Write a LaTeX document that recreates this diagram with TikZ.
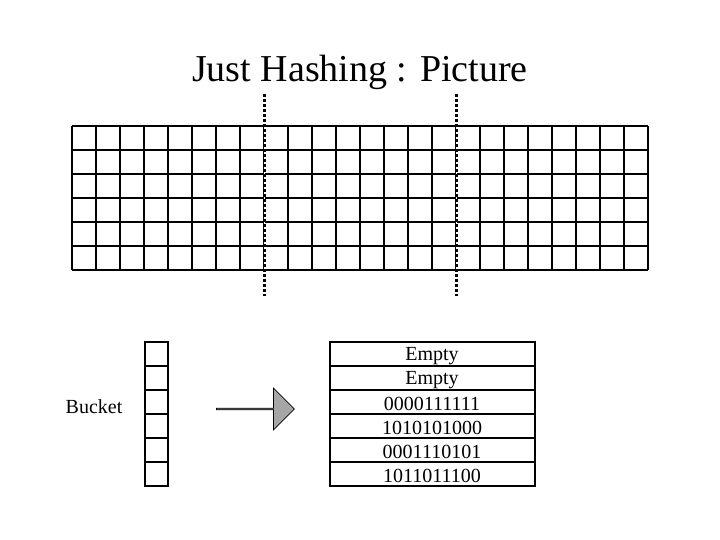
\documentclass[tikz,border=0pt]{standalone}
\usepackage{fontspec}
\setmainfont{Liberation Serif}
\usetikzlibrary{shapes.arrows}
\begin{document}
\begin{tikzpicture}[x=1pt,y=-1pt,
  gridline/.style={line width=2.6pt},
  thinbox/.style={line width=2pt},
  dotline/.style={line width=3pt,dash pattern=on 3pt off 2pt},
  lbl/.style={font=\fontsize{20}{20}\selectfont,inner sep=0pt}]
\useasboundingbox (0,0) rectangle (720,540);
\node[font=\fontsize{38}{38}\selectfont] (title) at (360,72) {Just Hashing : Picture};
% grid
\foreach \i in {0,...,24} \draw[gridline] (72+24*\i,126) -- (72+24*\i,270);
\foreach \j in {0,...,6} \draw[gridline] (72,126+24*\j) -- (648,126+24*\j);
\coordinate (d1t) at (264,94); \coordinate (d1b) at (264,296);
\coordinate (d2t) at (456,94); \coordinate (d2b) at (456,296);
\draw[line width=1pt,white] (d1t) -- (d1b);
\draw[line width=1pt,white] (d2t) -- (d2b);
\draw[dotline] (d1t) -- (d1b);
\draw[dotline] (d2t) -- (d2b);
% bucket
\node[lbl] (bucket) at (94,407) {Bucket};
\foreach \j in {0,...,5} \draw[thinbox] (145,342+24*\j) rectangle (168,366+24*\j);
% arrow
\node[single arrow, draw=black, fill=gray!70, minimum height=78pt, minimum width=42pt, single arrow head extend=10pt, inner sep=0pt, line width=0.8pt] (arr) at (255,409) {};
% table
\draw[thinbox] (330,342) rectangle (535,486);
\foreach \j in {1,...,5} \draw[line width=1.5pt] (330,342+24*\j) -- (535,342+24*\j);
\foreach \t [count=\k from 0] in {Empty,Empty,0000111111,1010101000,0001110101,1011011100}
  \node[lbl] (r\k) at (432,356+24*\k) {\t};
\end{tikzpicture}
\end{document}
